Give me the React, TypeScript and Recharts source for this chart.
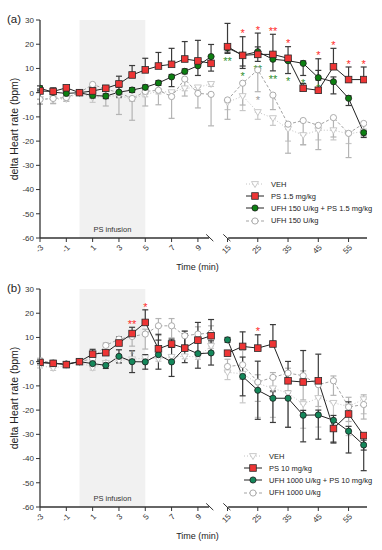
import React from 'react';
import {
  ComposedChart,
  Line,
  Scatter,
  XAxis,
  YAxis,
  ErrorBar,
  ReferenceArea,
  ReferenceLine,
  Legend,
} from 'recharts';

const FONT = '"Liberation Sans", Arial, sans-serif';

// time points (min)
const EARLY_TIMES = [-3, -2, -1, 0, 1, 2, 3, 4, 5, 6, 7, 8, 9, 10];
const LATE_TIMES = [15, 20, 25, 30, 35, 40, 45, 50, 55, 60];
const TIMES = [...EARLY_TIMES, ...LATE_TIMES];
const X_TICK_LABELS = [-3, -1, 1, 3, 5, 7, 9, 15, 25, 35, 45, 55];
const Y_TICKS = [30, 20, 10, 0, -10, -20, -30, -40, -50, -60];

// broken x axis: minutes after the break are squeezed
const BREAK_GAP = 1.25;
const LATE_SCALE = 0.23;
const toPos = (t: number) => (t <= 10 ? t : 10 + BREAK_GAP + (t - 15) * LATE_SCALE);
const X_MAX = toPos(60) + 0.25;
const AXIS_CUT_LEFT = 9.85;
const AXIS_CUT_RIGHT = toPos(15) + 0.05;

type Err = [number, number] | null; // [down, up]

// ---- panel (a) ----
const VEH_A = [-2.6, -2.6, -2.6, 0, -2, -1.6, -1.2, -2.6, -0.7, 0.5, 0.2, 1.8, 2.2, 3.6, -4, -1.4, -8, -10.5, -15, -17.5, -15.5, -15.5, -17, -16];
const VEH_A_ERR: Err[] = [[2, 0], [2, 0], [1, 0], null, [2, 0], [1, 0], [1, 0], [1, 0], [1, 0], [1, 0], [1, 0], [1, 0], [1, 0], [1, 0], [3, 0], [6, 0], [3, 0], [3, 0], [5, 0], [4, 0], [4, 0], [4, 0], [4, 0], [2, 0]];
const PS_A = [0.7, 0.5, 2, 0, 0.7, 1.8, 3.6, 7.3, 9.4, 11, 11.7, 13.9, 13.1, 12.1, 19, 15.4, 15.8, 15.8, 14.2, 1.8, 1.0, 10.7, 5.4, 5.4];
const PS_A_ERR: Err[] = [[0.5, 0.8], [1, 1.5], [0.5, 1], null, [0.5, 1.5], [0.5, 1.2], [0.5, 3.2], [0.5, 3.9], [0.5, 4.8], [0.5, 5.6], [0.5, 6.6], [0.5, 7.2], [0.5, 8.5], [0.5, 3], [2.3, 9.6], [4.4, 7.7], [1, 8.8], [1, 8.3], [1, 4.8], [1, 2], [1, 13], [1, 7.6], [1, 5.2], [1, 5.2]];
const PS_A_SIG: Record<number, string> = { 15: '*', 20: '*', 25: '*', 30: '**', 35: '*', 45: '*', 50: '*', 55: '*', 60: '*' };
const COMBO_A = [1.8, 0.2, -0.3, 0, -1.2, -1.4, 0.2, 1.1, 2.2, 4, 6.5, 8.8, 11.1, 14.9, 18.5, 15.5, 16.9, 13.8, 13.2, 12.1, 6.2, 4.5, -2.3, -16.5];
const COMBO_A_ERR: Err[] = [[1, 1], [1, 1], [1, 1], null, [1, 1], [1, 1], [2, 2], [1, 1], [1, 1], [1, 1], [4, 1], [1, 1], [4, 1], [6, 5], [2.3, 1], [5.5, 1], [4, 2], [4.8, 1], [5.3, 1], [5, 1], [1, 3], [5, 2], [3, 1], [2, 1]];
const COMBO_A_SIG: Record<number, string> = { 15: '**', 20: '*', 25: '**', 30: '**', 35: '*', 40: '*', 45: '*' };
const UFH_A = [-2.8, -2.4, -2, 0, 3.4, 1.5, 0, -2.4, 0.5, 1, -1.6, 5.6, -0.3, -0.7, -3, 3.9, 9.4, -1, -13, -11.5, -13.5, -10.3, -16.8, -12.7];
const UFH_A_ERR: Err[] = [[2, 0], [2, 0], [1.5, 0], null, [1, 0], [7, 0], [9, 0], [9, 0], [6, 0], [6, 0], [9, 0], [7, 0], [6, 0], [13, 0], [8, 0], [9, 0], [9, 0], [6, 0], [12, 0], [10, 0], [10, 0], [8, 0], [10, 0], [5, 0]];
const UFH_A_SIG: Record<number, string> = { 25: '*' };

// ---- panel (b) ----
const VEH_B = [-1.6, -2.6, -1.6, 0, -2.5, -0.5, 0.5, 1, 1.5, 1.2, 2, 2.2, 2, 6.5, -4.4, -5, -9, -11, -13, -17.5, -15, -17, -18.5, -15.5];
const VEH_B_ERR: Err[] = [[1, 0], [1, 0], [1, 0], null, [1, 0], [1, 0], [1, 0], [1, 0], [1, 0], [1, 0], [1, 0], [1, 0], [1, 0], [1, 0], [3, 0], [12, 0], [14, 0], [12, 0], [14, 0], [10, 0], [12, 0], [8, 0], [12, 0], [6, 0]];
const PS_B = [-0.3, -0.7, -1.2, 0, 3.1, 3.7, 7.7, 11.6, 16.2, 5.3, 7.3, 5.6, 8.9, 10.7, 3.5, 6.3, 5.6, 7.3, -7.9, -8.4, -7.9, -27.6, -21.6, -30.5];
const PS_B_ERR: Err[] = [[0.5, 1], [0.5, 1], [0.5, 0.5], null, [0.5, 2], [0.5, 0.8], [0.5, 2.5], [0.5, 2.6], [0.5, 5.2], [0.5, 6], [0.5, 2], [0.5, 7], [0.5, 7.3], [0.5, 6.7], [0.5, 1], [0.5, 6], [0.5, 5.5], [0.5, 8], [0.5, 8], [0.5, 13], [0.5, 11], [6, 0.5], [0.5, 5], [6, 0.5]];
const PS_B_SIG: Record<number, string> = { 4: '**', 5: '*', 25: '*' };
const COMBO_B = [-0.3, -0.7, -1, 0, -0.8, -1.5, 2.2, 0, -0.1, 2.9, -0.1, 5.6, 3.3, 3.6, 9, -6.1, -11.8, -15.1, -15.1, -22.1, -22, -24.2, -28.7, -34.4];
const COMBO_B_ERR: Err[] = [[0.5, 0.5], [0.5, 0.5], [0.5, 0.5], null, [1, 0.5], [1.3, 1.3], [2.7, 2.7], [4.5, 4.5], [3, 3], [6, 6], [6, 6], [6, 6], [6, 6], [5, 5], [1, 1], [8, 8], [12, 12], [10, 3], [12, 3], [11, 2], [10, 2], [9, 2], [9, 2], [10.6, 2]];
const UFH_B = [0.4, -0.5, -1, 0, 1.2, 6.7, 9.3, 10.4, 11.4, 14.8, 14.8, 10.7, 11.4, 11.8, -2, -1.3, -8.4, -6.5, -4.7, -5.8, -9.5, -7.9, -18.7, -17.7];
const UFH_B_ERR: Err[] = [[1, 1], [1, 1], [1, 1], null, [1, 1], [3.9, 1], [1, 1], [4, 1.5], [6.2, 2], [4, 3], [5, 3], [4, 2], [3, 3], [4, 3], [2, 3], [6, 6], [8, 3], [6, 2], [8, 2], [10, 2], [9, 2], [6, 2], [6, 4], [6, 4]];
const UFH_B_SIG: Record<number, string> = { 2: '*', 4: '*' };

type Kind = 'veh' | 'ps' | 'combo' | 'ufh';
interface Series {
  key: string;
  name: string;
  kind: Kind;
  values: number[];
  err: Err[];
  sig?: Record<number, string>;
}

const RED = '#ee3535';
const GREEN_A = '#0d8012';
const GREEN_B = '#14875a';
const UFH_GRAY = '#a3a3a3';
const VEH_GRAY = '#c4c4c4';
const INK = '#333333';

function Marker({ kind, cx, cy, fill }: { kind: Kind; cx: number; cy: number; fill: string }) {
  if (kind === 'ps') {
    return <rect x={cx - 3.3} y={cy - 3.3} width={6.6} height={6.6} fill={fill} stroke="#2a2a2a" strokeWidth={0.8} />;
  }
  if (kind === 'combo') {
    return <circle cx={cx} cy={cy} r={3.1} fill={fill} stroke="#1c1c1c" strokeWidth={0.8} />;
  }
  if (kind === 'ufh') {
    return <circle cx={cx} cy={cy} r={3.1} fill="#fff" stroke={UFH_GRAY} strokeWidth={0.9} />;
  }
  return (
    <path
      d={`M${cx - 3.5},${cy - 2.4} L${cx + 3.5},${cy - 2.4} L${cx},${cy + 3.5} Z`}
      fill="#fff"
      stroke={VEH_GRAY}
      strokeWidth={0.9}
    />
  );
}

const lineStroke = (kind: Kind) => (kind === 'veh' ? VEH_GRAY : kind === 'ufh' ? UFH_GRAY : '#222');
const lineDash = (kind: Kind) => (kind === 'veh' ? '1 2' : kind === 'ufh' ? '3 2' : undefined);
const errStroke = (kind: Kind) => (kind === 'veh' ? '#c8c8c8' : kind === 'ufh' ? '#b4b4b4' : '#3a3a3a');

function buildRows(series: Series[]) {
  const rows: Record<string, any>[] = [];
  TIMES.forEach((t, i) => {
    if (t === LATE_TIMES[0]) {
      // empty row so the lines stop at the axis break
      const gap: Record<string, any> = { pos: 10 + BREAK_GAP / 2 };
      series.forEach((s) => {
        gap[s.key] = null;
      });
      rows.push(gap);
    }
    const row: Record<string, any> = { pos: toPos(t), time: t };
    series.forEach((s) => {
      row[s.key] = s.values[i];
      row[`${s.key}Err`] = s.err[i];
    });
    rows.push(row);
  });
  return rows;
}

// significance marks sit above the upper error (PS) or below the lower error (others)
function starRows(s: Series) {
  return TIMES.flatMap((t, i) => {
    const mark = s.sig?.[t];
    if (!mark) return [];
    const [dn, up] = s.err[i] ?? [0, 0];
    const y = s.kind === 'ps' ? s.values[i] + up + 2.2 : s.values[i] - dn - 2.4;
    return [{ pos: toPos(t), y, mark }];
  });
}

function LegendBox({ series, fills }: { series: Series[]; fills: Record<Kind, string> }) {
  return (
    <div style={{ fontFamily: FONT, fontSize: 7.5, color: '#222' }}>
      {series.map((s) => (
        <div key={s.key} style={{ display: 'flex', alignItems: 'center', height: 12.2 }}>
          <svg width={20} height={10} style={{ overflow: 'visible' }}>
            <line x1={1} x2={19} y1={5} y2={5} stroke={lineStroke(s.kind)} strokeDasharray={lineDash(s.kind)} />
            <Marker kind={s.kind} cx={10} cy={5} fill={fills[s.kind]} />
          </svg>
          <span style={{ marginLeft: 6, whiteSpace: 'nowrap' }}>{s.name}</span>
        </div>
      ))}
    </div>
  );
}

interface PanelProps {
  tag: string;
  top: number;
  series: Series[];
  legendSeries: Series[];
  fills: Record<Kind, string>;
  starColors: Record<Kind, string>;
  legendTop: number;
  legendLeft: number;
}

function Panel({ tag, top, series, legendSeries, fills, starColors, legendTop, legendLeft }: PanelProps) {
  const rows = buildRows(series);
  const xTicks = X_TICK_LABELS.map(toPos);
  const slash = (x: number) => [
    { x: x - 0.27, y: -58.5 },
    { x: x + 0.27, y: -61.3 },
  ];

  return (
    <div style={{ position: 'absolute', left: 0, top, width: 382, height: 272 }}>
      <div style={{ position: 'absolute', left: 7, top: 13, fontFamily: FONT, fontSize: 11.5, color: '#222', zIndex: 2 }}>
        {tag}
      </div>
      <ComposedChart
        width={382}
        height={272}
        data={rows}
        margin={{ top: 20, right: 15, left: 0, bottom: 0 }}
        style={{ fontFamily: FONT }}
      >
        <ReferenceArea
          x1={0}
          x2={5}
          y1={-60}
          y2={30}
          fill="#f1f1f1"
          fillOpacity={1}
          stroke="none"
          label={{ value: 'PS infusion', position: 'insideBottom', offset: 6, fontSize: 7.5, fill: INK }}
        />
        <XAxis
          type="number"
          dataKey="pos"
          domain={[-3, X_MAX]}
          ticks={xTicks}
          interval={0}
          allowDataOverflow
          axisLine={false}
          tickLine={{ stroke: INK }}
          tickSize={4}
          height={34}
          angle={-45}
          textAnchor="end"
          tick={{ fontSize: 8, fill: INK }}
          tickFormatter={(v: number) => String(X_TICK_LABELS[xTicks.indexOf(v)])}
          label={{ value: 'Time (min)', position: 'insideBottom', offset: 2, dx: -6, fontSize: 9, fill: '#222' }}
        />
        <YAxis
          type="number"
          domain={[-60, 30]}
          ticks={Y_TICKS}
          interval={0}
          allowDataOverflow
          width={40}
          tickSize={4}
          axisLine={{ stroke: INK, strokeWidth: 1.3 }}
          tickLine={{ stroke: INK }}
          tick={{ fontSize: 8, fill: INK }}
          label={{
            value: 'delta Heart rate (bpm)',
            angle: -90,
            position: 'insideLeft',
            offset: 14,
            fontSize: 10.5,
            fill: '#222',
            style: { textAnchor: 'middle' },
          }}
        />
        <ReferenceLine segment={[{ x: -3, y: -60 }, { x: AXIS_CUT_LEFT, y: -60 }]} stroke={INK} strokeWidth={1.3} ifOverflow="visible" />
        <ReferenceLine segment={[{ x: AXIS_CUT_RIGHT, y: -60 }, { x: X_MAX, y: -60 }]} stroke={INK} strokeWidth={1.3} ifOverflow="visible" />
        <ReferenceLine segment={slash(AXIS_CUT_LEFT + 0.05)} stroke={INK} strokeWidth={1} ifOverflow="visible" />
        <ReferenceLine segment={slash(AXIS_CUT_RIGHT - 0.1)} stroke={INK} strokeWidth={1} ifOverflow="visible" />

        {series.map((s) => (
          <Line
            key={s.key}
            dataKey={s.key}
            name={s.name}
            type="linear"
            stroke={lineStroke(s.kind)}
            strokeWidth={1}
            strokeDasharray={lineDash(s.kind)}
            isAnimationActive={false}
            activeDot={false}
            dot={(p: any) =>
              p.cy == null || p.value == null ? (
                <g key={`d${s.key}${p.index}`} />
              ) : (
                <g key={`d${s.key}${p.index}`}>
                  <Marker kind={s.kind} cx={p.cx} cy={p.cy} fill={fills[s.kind]} />
                </g>
              )
            }
          >
            <ErrorBar dataKey={`${s.key}Err`} direction="y" width={3} stroke={errStroke(s.kind)} strokeWidth={1.2} />
          </Line>
        ))}

        {series
          .filter((s) => s.sig)
          .map((s) => (
            <Scatter
              key={`sig-${s.key}`}
              data={starRows(s)}
              dataKey="y"
              isAnimationActive={false}
              shape={(p: any) => (
                <text
                  x={p.cx}
                  y={p.cy + 6}
                  textAnchor="middle"
                  fontSize={11}
                  fontFamily={FONT}
                  fill={starColors[s.kind]}
                >
                  {p.payload.mark}
                </text>
              )}
            />
          ))}

        <Legend
          layout="vertical"
          align="center"
          verticalAlign="middle"
          wrapperStyle={{ left: legendLeft, top: legendTop, width: 140 }}
          content={() => <LegendBox series={legendSeries} fills={fills} />}
        />
      </ComposedChart>
    </div>
  );
}

// drawing order: grey controls first, PS on top
const SERIES_A: Series[] = [
  { key: 'veh', name: 'VEH', kind: 'veh', values: VEH_A, err: VEH_A_ERR },
  { key: 'ufh', name: 'UFH 150 U/kg', kind: 'ufh', values: UFH_A, err: UFH_A_ERR, sig: UFH_A_SIG },
  { key: 'combo', name: 'UFH 150 U/kg + PS 1.5 mg/kg', kind: 'combo', values: COMBO_A, err: COMBO_A_ERR, sig: COMBO_A_SIG },
  { key: 'ps', name: 'PS 1.5 mg/kg', kind: 'ps', values: PS_A, err: PS_A_ERR, sig: PS_A_SIG },
];

const SERIES_B: Series[] = [
  { key: 'veh', name: 'VEH', kind: 'veh', values: VEH_B, err: VEH_B_ERR },
  { key: 'ufh', name: 'UFH 1000 U/kg', kind: 'ufh', values: UFH_B, err: UFH_B_ERR, sig: UFH_B_SIG },
  { key: 'combo', name: 'UFH 1000 U/kg + PS 10 mg/kg', kind: 'combo', values: COMBO_B, err: COMBO_B_ERR },
  { key: 'ps', name: 'PS 10 mg/kg', kind: 'ps', values: PS_B, err: PS_B_ERR, sig: PS_B_SIG },
];

// legend order in the figure: VEH, PS, UFH + PS, UFH
const legendOrder = (s: Series[]) => (['veh', 'ps', 'combo', 'ufh'] as Kind[]).map((k) => s.find((x) => x.kind === k)!);

export default function App() {
  return (
    <div style={{ position: 'absolute', left: 0, top: 0, width: 382, height: 550, background: '#fff' }}>
      <Panel
        tag="(a)"
        top={0}
        series={SERIES_A}
        legendSeries={legendOrder(SERIES_A)}
        fills={{ veh: '#fff', ufh: '#fff', combo: GREEN_A, ps: RED }}
        starColors={{ veh: '#999', ufh: '#9a9a9a', combo: '#2f8f2f', ps: '#ff2a2a' }}
        legendTop={178}
        legendLeft={245}
      />
      <Panel
        tag="(b)"
        top={269}
        series={SERIES_B}
        legendSeries={legendOrder(SERIES_B)}
        fills={{ veh: '#fff', ufh: '#fff', combo: GREEN_B, ps: RED }}
        starColors={{ veh: '#999', ufh: '#9a9a9a', combo: '#2f8f2f', ps: '#ff2a2a' }}
        legendTop={181}
        legendLeft={243}
      />
    </div>
  );
}
